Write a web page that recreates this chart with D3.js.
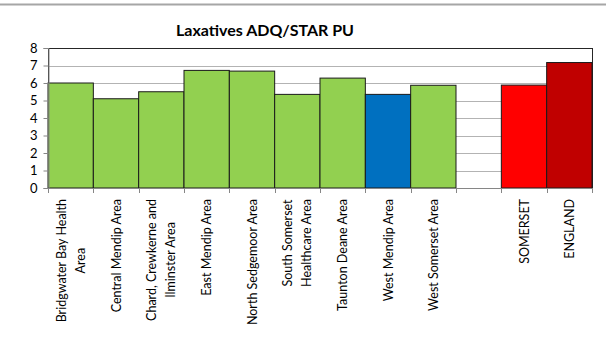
<!DOCTYPE html>
<html>
<head>
<meta charset="utf-8">
<script src="https://cdnjs.cloudflare.com/ajax/libs/d3/7.8.5/d3.min.js"></script>
<style>
  body { margin: 0; background: #fff; }
  svg { display: block; font-family: Lato, "Open Sans", sans-serif; }
</style>
</head>
<body>
<div id="chart"></div>
<script>
  'use strict';

  // chart data
  var categories = [
    'Bridgwater Bay Health Area', 'Central Mendip Area',
    'Chard, Crewkerne and Ilminster Area', 'East Mendip Area',
    'North Sedgemoor Area', 'South Somerset Healthcare Area',
    'Taunton Deane Area', 'West Mendip Area', 'West Somerset Area',
    '', 'SOMERSET', 'ENGLAND'
  ];
  // how each tick label wraps
  var labelLines = [
    ['Bridgwater Bay Health', 'Area'], ['Central Mendip Area'],
    ['Chard, Crewkerne and', 'Ilminster Area'], ['East Mendip Area'],
    ['North Sedgemoor Area'], ['South Somerset', 'Healthcare Area'],
    ['Taunton Deane Area'], ['West Mendip Area'], ['West Somerset Area'],
    [], ['SOMERSET'], ['ENGLAND']
  ];
  var values = [6.0, 5.1, 5.5, 6.72, 6.68, 5.35, 6.28, 5.35, 5.87, null, 5.88, 7.17];
  var groups = ['area', 'area', 'area', 'area', 'area', 'area', 'area',
    'selected', 'area', 'none', 'county', 'national'];
  var yTicks = [0, 1, 2, 3, 4, 5, 6, 7, 8];
  var title = 'Laxatives ADQ/STAR PU';

  var width = 606,
      height = 340,
      plot = {left: 48, right: 592, top: 48, bottom: 188};

  var svg = d3.select('#chart')
    .append('svg')
    .attr('width', width)
    .attr('height', height);

  // page rule at the very top
  svg.append('line')
    .attr('x1', 0).attr('x2', width)
    .attr('y1', 4.5).attr('y2', 4.5)
    .attr('stroke', '#a6a6a6')
    .attr('stroke-width', 2);

  svg.append('text')
    .attr('x', 265)
    .attr('y', 36)
    .attr('text-anchor', 'middle')
    .attr('font-size', 16)
    .attr('font-weight', 'bold')
    .attr('fill', '#000')
    .text(title);

  var x = d3.scaleBand()
    .domain(d3.range(categories.length))
    .range([plot.left, plot.right])
    .padding(0);

  var y = d3.scaleLinear()
    .domain([0, 8])
    .range([plot.bottom, plot.top]);

  var color = d3.scaleOrdinal()
    .domain(['area', 'selected', 'county', 'national', 'none'])
    .range(['#92d050', '#0070c0', '#ff0000', '#c00000', 'none']);

  // gridlines
  svg.append('g')
    .selectAll('line')
    .data(yTicks.slice(1, -1))
    .enter()
    .append('line')
      .attr('x1', plot.left).attr('x2', plot.right)
      .attr('y1', function (d) { return Math.round(y(d)) + 0.5; })
      .attr('y2', function (d) { return Math.round(y(d)) + 0.5; })
      .attr('stroke', '#b3b3b3')
      .attr('stroke-width', 1.2);

  // plot frame
  svg.append('rect')
    .attr('x', plot.left + 0.5)
    .attr('y', plot.top + 0.5)
    .attr('width', plot.right - plot.left)
    .attr('height', plot.bottom - plot.top)
    .attr('fill', 'none')
    .attr('stroke', '#262626')
    .attr('stroke-width', 1);

  // bars (skip the empty spacer slot)
  var barIdx = d3.range(values.length).filter(function (i) {
    return values[i] !== null;
  });
  svg.append('g')
    .selectAll('rect')
    .data(barIdx)
    .enter()
    .append('rect')
      .attr('x', function (i) { return x(i); })
      .attr('width', x.bandwidth())
      .attr('y', function (i) { return y(values[i]); })
      .attr('height', function (i) { return y(0) - y(values[i]); })
      .attr('fill', function (i) { return color(groups[i]); })
      .attr('stroke', '#1a1a1a')
      .attr('stroke-width', 1);

  // y axis
  var yAxis = svg.append('g')
    .attr('transform', 'translate(' + (plot.left + 0.5) + ',0)')
    .call(d3.axisLeft(y).tickValues(yTicks).tickSize(5).tickPadding(6));
  yAxis.selectAll('path, line').attr('stroke', '#868686');
  yAxis.selectAll('text')
    .attr('font-size', 13)
    .attr('font-family', 'Lato, sans-serif')
    .attr('fill', '#000');

  // x axis with ticks at band edges
  var edges = d3.range(categories.length + 1).map(function (i) {
    return plot.left + i * x.step();
  });
  svg.append('line')
    .attr('x1', plot.left).attr('x2', plot.right + 1)
    .attr('y1', plot.bottom + 0.5).attr('y2', plot.bottom + 0.5)
    .attr('stroke', '#868686');
  svg.append('g')
    .selectAll('line')
    .data(edges)
    .enter()
    .append('line')
      .attr('x1', function (d) { return Math.round(d) + 0.5; })
      .attr('x2', function (d) { return Math.round(d) + 0.5; })
      .attr('y1', plot.bottom)
      .attr('y2', plot.bottom + 5)
      .attr('stroke', '#868686');

  // rotated category labels, top-aligned, lines centred in block
  var lineGap = 19,
      labelTop = 199;
  var labels = svg.append('g')
    .attr('font-size', 12.5)
    .attr('fill', '#000');

  labelLines.forEach(function (lines, i) {
    if (!lines.length) { return; }
    var cx = x(i) + x.bandwidth() / 2;
    var g = labels.append('g');
    var texts = g.selectAll('text')
      .data(lines)
      .enter()
      .append('text')
        .attr('text-anchor', 'middle')
        .text(function (d) { return d; });
    var maxLen = d3.max(texts.nodes(), function (n) { return n.getComputedTextLength(); });
    var cy = labelTop + maxLen / 2;
    texts.attr('transform', function (d, j) {
      var off = (j - (lines.length - 1) / 2) * lineGap;
      return 'translate(' + (cx + off + 4.5) + ',' + cy + ') rotate(-90)';
    });
  });
</script>
</body>
</html>
